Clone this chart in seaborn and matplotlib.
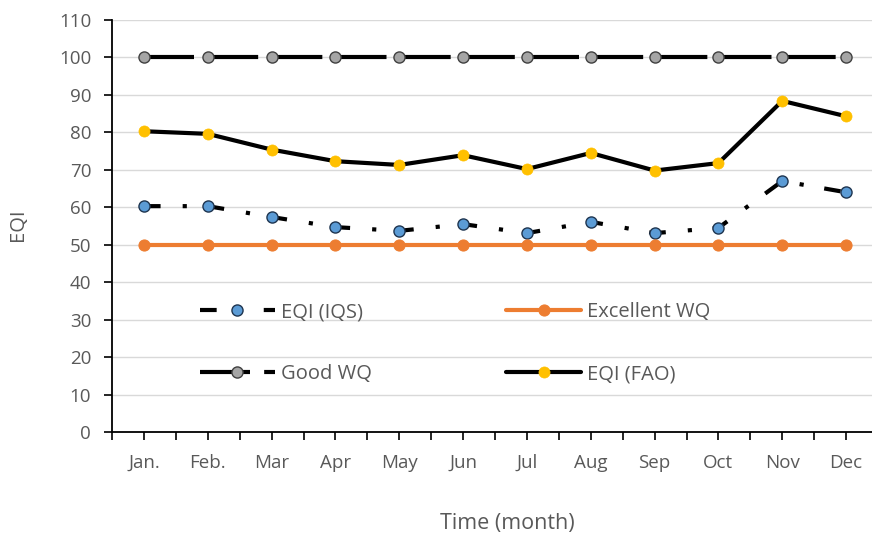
import matplotlib
matplotlib.use("Agg")
import matplotlib.pyplot as plt
import seaborn as sns
import pandas as pd
import numpy as np
from matplotlib.ticker import MultipleLocator, FixedLocator

months = ["Jan.", "Feb.", "Mar", "Apr", "May", "Jun", "Jul", "Aug", "Sep", "Oct", "Nov", "Dec"]
eqi_iqs = [60.3, 60.3, 57.4, 54.7, 53.7, 55.5, 53.1, 56.1, 53.1, 54.5, 67.0, 64.0]
excellent_wq = [50] * 12
good_wq = [100] * 12
eqi_fao = [80.3, 79.6, 75.4, 72.3, 71.3, 73.9, 70.2, 74.5, 69.8, 71.8, 88.4, 84.3]

sns.set_theme(style="white")
plt.rcParams["font.family"] = ["Open Sans", "DejaVu Sans"]

fig = plt.figure(figsize=(8.72, 5.38), dpi=100)
W, H = 872, 538
ax = fig.add_axes([112 / W, (H - 432) / H, (878 - 112) / W, (432 - 20) / H])

x = np.arange(len(months))
df = pd.DataFrame({"x": x, "iqs": eqi_iqs, "exc": excellent_wq, "good": good_wq, "fao": eqi_fao})

text_color = "#595959"

sns.lineplot(data=df, x="x", y="iqs", ax=ax, color="black", lw=3.0,
             marker="o", markersize=8, markerfacecolor="#5B9BD5", markeredgecolor="#1F3550",
             markeredgewidth=1.0, label="EQI (IQS)", zorder=3)
ax.lines[-1].set_dashes([4.0, 5.3, 1.0, 5.0])

sns.lineplot(data=df, x="x", y="exc", ax=ax, color="#ED7D31", lw=3.0,
             marker="o", markersize=8, markerfacecolor="#ED7D31", markeredgecolor="#ED7D31",
             label="Excellent WQ", zorder=3)

sns.lineplot(data=df, x="x", y="good", ax=ax, color="black", lw=3.0,
             marker="o", markersize=8, markerfacecolor="#A5A5A5", markeredgecolor="#404040",
             markeredgewidth=1.0, label="Good WQ", zorder=3)
ax.lines[-1].set_dashes([12.0, 3.4])

sns.lineplot(data=df, x="x", y="fao", ax=ax, color="black", lw=3.0,
             marker="o", markersize=8, markerfacecolor="#FFC000", markeredgecolor="#FFC000",
             markeredgewidth=0.5, label="EQI (FAO)", zorder=4)

ax.set_xlim(-0.5, 11.5)
ax.set_ylim(0, 110)
ax.yaxis.set_major_locator(MultipleLocator(10))
ax.set_xticks(x)
ax.set_xticklabels(months)
ax.xaxis.set_minor_locator(FixedLocator(np.arange(-0.5, 12, 1.0)))

ax.grid(axis="y", color="#D9D9D9", lw=1.0)
ax.set_axisbelow(True)
for s in ["top", "right"]:
    ax.spines[s].set_visible(False)
for s in ["left", "bottom"]:
    ax.spines[s].set_color("black")
    ax.spines[s].set_linewidth(1.3)

ax.tick_params(axis="y", which="major", direction="out", length=6, width=1.2, color="black",
               left=True, labelsize=13.5, labelcolor=text_color, pad=9)
ax.tick_params(axis="x", which="both", direction="out", length=6, width=1.2, color="black",
               bottom=True, labelsize=13.5, labelcolor=text_color, pad=9.5)

ax.set_xlabel("")
ax.set_ylabel("")
fig.text(507 / W, 1 - 523 / H, "Time (month)", ha="center", va="center", fontsize=15.5, color=text_color)
fig.text(18 / W, 1 - 225 / H, "EQI", ha="center", va="center", rotation=90, fontsize=14.5, color=text_color)

handles, labels = ax.get_legend_handles_labels()
order = [0, 2, 1, 3]
leg = ax.legend([handles[i] for i in order], [labels[i] for i in order], ncol=2,
                loc="upper left", bbox_to_anchor=(190 / W, 1 - 292 / H), bbox_transform=fig.transFigure,
                frameon=False, handlelength=3.7, handletextpad=0.3, labelspacing=2.1,
                columnspacing=6.7, fontsize=14.5, borderpad=0)
for t in leg.get_texts():
    t.set_color(text_color)

fig.savefig("out.png", dpi=100)
